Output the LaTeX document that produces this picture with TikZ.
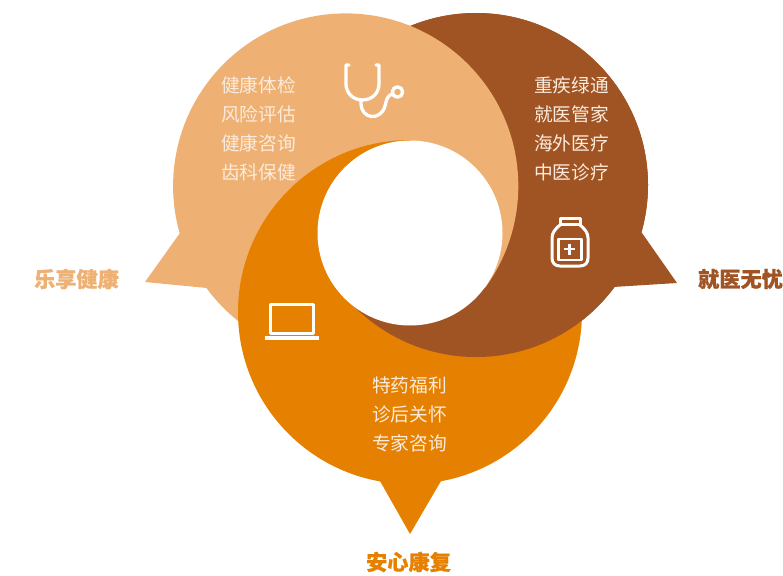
\documentclass[tikz,border=0pt]{standalone}
\usepackage{fontspec}
\setmainfont{Noto Sans CJK SC}
\newfontfamily\titlefont[BoldFeatures={FakeBold=0.6}]{Noto Sans CJK SC}
\definecolor{lightc}{HTML}{EEB173}
\definecolor{brownc}{HTML}{A15423}
\definecolor{orangec}{HTML}{E68000}
\definecolor{txtc}{HTML}{FBEBDC}
\tikzset{
  body/.style={align=center,text=txtc,font=\fontsize{18.7}{29}\selectfont,inner sep=0pt},
  title/.style={font=\titlefont\fontsize{21.2}{24}\selectfont\bfseries,inner sep=0pt},
  icon/.style={draw=white,line width=3.3pt,line cap=round,line join=round}
}
\newcommand{\bubL}[1]{\fill[#1] (345.7,186) circle (172.6); \fill[#1] (180,233) -- (145,282) -- (207,288) -- (240,260) -- (230,200) -- cycle;}
\newcommand{\bubB}[1]{\fill[#1] (476,185) circle (172); \fill[#1] (642,233) -- (677,283) -- (613,287) -- (580,260) -- (600,200) -- cycle;}
\newcommand{\bubO}[1]{\fill[#1] (410,312) circle (172); \fill[#1] (380,481) -- (410,534) -- (441,481) -- (410,440) -- cycle;}
\begin{document}
\begin{tikzpicture}[x=1pt,y=-1pt]
\useasboundingbox (0,0) rectangle (783,575);
\fill[white] (0,0) rectangle (783,575);
\bubB{brownc}
\bubL{lightc}
\bubO{orangec}
\begin{scope}
  \clip (410,233) -- (335,287) -- (100,458) -- (100,600) -- (783,600) -- (783,0) -- (410,0) -- cycle;
  \fill[brownc] (476,185) circle (172);
\end{scope}
\begin{scope}
  \clip (410,233) -- (410,0) -- (783,0) -- (783,400) -- (484.5,288) -- cycle;
  \fill[lightc] (345.7,186) circle (172.6);
\end{scope}
\fill[white] (410,233) circle (92.5);
% stethoscope
\draw[icon] (349,65) -- (346,65) -- (346,84) .. controls (346,93) and (353,100) .. (362.5,100) .. controls (372,100) and (379,93) .. (379,84) -- (379,65) -- (376,65);
\draw[icon] (361,100) -- (361,103) .. controls (361,120) and (381,121) .. (385,106) .. controls (386.5,100) and (387,96) .. (392,94);
\draw[icon] (397.5,92) circle (5.2);
% bottle
\draw[icon,line width=3pt] (560,224.5) -- (560,218) -- (580,218) -- (580,224.5) -- cycle;
\draw[icon,line width=3pt] (560,225) .. controls (555,229) and (552,233) .. (552,238) -- (552,258) .. controls (552,263) and (555,266) .. (560,266) -- (580,266) .. controls (585,266) and (588,263) .. (588,258) -- (588,238) .. controls (588,233) and (585,229) .. (580,225);
\draw[icon,line width=2.4pt,line cap=butt] (558.5,239) rectangle (581.5,260);
\draw[icon,line width=2.4pt,line cap=butt] (564,249) -- (575,249) (569.5,243.5) -- (569.5,254.5);
% laptop
\draw[icon,line width=3pt,line cap=butt] (270.5,304.5) rectangle (313.5,333);
\draw[icon,line width=3.2pt,line cap=butt] (264.5,338) -- (319,338);
% texts
\node[body] (tl) at (258.5,128.5) {健康体检\\风险评估\\健康咨询\\齿科保健};
\node[body] (tr) at (571.5,128.5) {重疾绿通\\就医管家\\海外医疗\\中医诊疗};
\node[body] (tb) at (409.5,414.5) {特药福利\\诊后关怀\\专家咨询};
\node[title,text=lightc] (l1) at (76.5,279) {乐享健康};
\node[title,text=brownc] (l2) at (740.5,279) {就医无忧};
\node[title,text=orangec] (l3) at (408.5,562) {安心康复};
\end{tikzpicture}
\end{document}
